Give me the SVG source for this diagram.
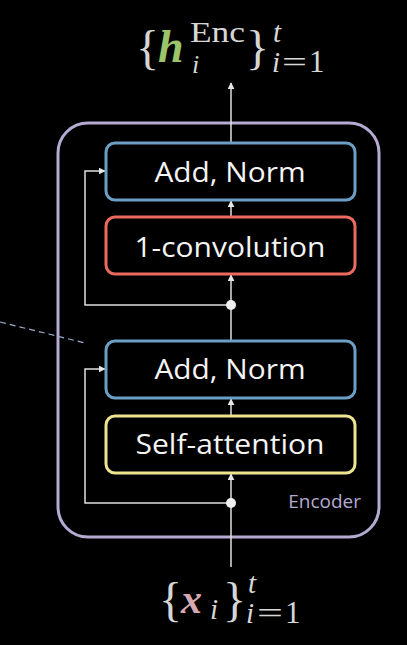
<svg xmlns="http://www.w3.org/2000/svg" width="407" height="645" viewBox="0 0 407 645">
<defs>
<marker id="ah" viewBox="0 0 10 10" refX="9" refY="5" markerWidth="7" markerHeight="7" markerUnits="userSpaceOnUse" orient="auto"><path d="M0,0 L10,5 L0,10 z" fill="#e6e6e6"/></marker>
<style>
.blk{fill:#000;stroke-width:3}
.lbl{font-family:"Open Sans","Noto Sans",sans-serif;font-size:28px;fill:#f4f4f4;text-anchor:middle}
.ln{fill:none;stroke:#e0e0e0;stroke-width:1.5}
.m{font-family:"Liberation Serif",serif;fill:#d6d6d6;font-weight:normal}
.h{fill:#9cc46a}
.x{fill:#d6a9b2}
</style>
</defs>
<rect width="407" height="645" fill="#000"/>
<g id="encoder">
<rect x="58" y="123" width="321" height="414" rx="30" fill="none" stroke="#b4aad2" stroke-width="3"/>
<text x="361" y="508" font-family="Open Sans, Noto Sans, sans-serif" font-size="19" fill="#b4aad2" text-anchor="end">Encoder</text>
</g>
<line x1="0" y1="322" x2="85" y2="343" stroke="#9aaccc" stroke-width="1.2" stroke-dasharray="6,4"/>
<g id="connectors">
<line class="ln" x1="231" y1="567" x2="231" y2="503"/>
<line class="ln" x1="231" y1="503" x2="231" y2="474" marker-end="url(#ah)"/>
<line class="ln" x1="231" y1="416" x2="231" y2="399" marker-end="url(#ah)"/>
<line class="ln" x1="231" y1="340" x2="231" y2="305"/>
<line class="ln" x1="231" y1="305" x2="231" y2="275" marker-end="url(#ah)"/>
<line class="ln" x1="231" y1="217" x2="231" y2="201" marker-end="url(#ah)"/>
<line class="ln" x1="231" y1="143" x2="231" y2="83" marker-end="url(#ah)"/>
<polyline class="ln" points="231,503 85,503 85,369 105,369" marker-end="url(#ah)"/>
<polyline class="ln" points="231,305 85,305 85,171 105,171" marker-end="url(#ah)"/>
<circle cx="231" cy="503" r="5" fill="#f0f0f0"/>
<circle cx="231" cy="305" r="5" fill="#f0f0f0"/>
</g>
<g id="addnorm2">
<rect class="blk" x="106" y="143" width="249" height="57" rx="9" stroke="#6b9fc6"/>
<text class="lbl" x="230" y="182" textLength="151" lengthAdjust="spacingAndGlyphs">Add, Norm</text>
</g>
<g id="conv">
<rect class="blk" x="106" y="217" width="249" height="57" rx="9" stroke="#ea6a5c"/>
<text class="lbl" x="230" y="257" textLength="191" lengthAdjust="spacingAndGlyphs">1-convolution</text>
</g>
<g id="addnorm1">
<rect class="blk" x="106" y="341" width="249" height="57" rx="9" stroke="#6b9fc6"/>
<text class="lbl" x="230" y="379" textLength="151" lengthAdjust="spacingAndGlyphs">Add, Norm</text>
</g>
<g id="selfattn">
<rect class="blk" x="106" y="416" width="249" height="57" rx="9" stroke="#ece48e"/>
<text class="lbl" x="230" y="454" textLength="189" lengthAdjust="spacingAndGlyphs">Self-attention</text>
</g>
<g id="output">
<text class="m" x="136" y="64" font-size="48">{</text>
<text class="m h" x="158" y="62" font-size="46" font-style="italic" style="font-weight:bold">h</text>
<text class="m" x="190" y="42" font-size="30" textLength="55" lengthAdjust="spacingAndGlyphs">Enc</text>
<text class="m" x="192" y="73" font-size="26" font-style="italic">i</text>
<text class="m" x="246" y="64" font-size="48">}</text>
<text class="m" x="273" y="42" font-size="29" font-style="italic">t</text>
<text class="m" x="272" y="72" font-size="29" font-style="italic">i</text>
<text class="m" x="282" y="72" font-size="29" textLength="25" lengthAdjust="spacingAndGlyphs">=</text>
<text class="m" x="309" y="72" font-size="31">1</text>
</g>
<g id="input">
<text class="m" x="159" y="616" font-size="48">{</text>
<text class="m x" x="181" y="613" font-size="42" font-style="italic" style="font-weight:bold">x</text>
<text class="m" x="210" y="619" font-size="29" font-style="italic">i</text>
<text class="m" x="223" y="616" font-size="48">}</text>
<text class="m" x="248" y="593" font-size="29" font-style="italic">t</text>
<text class="m" x="246" y="623" font-size="29" font-style="italic">i</text>
<text class="m" x="257" y="623" font-size="29" textLength="26" lengthAdjust="spacingAndGlyphs">=</text>
<text class="m" x="285" y="623" font-size="31">1</text>
</g>
</svg>
